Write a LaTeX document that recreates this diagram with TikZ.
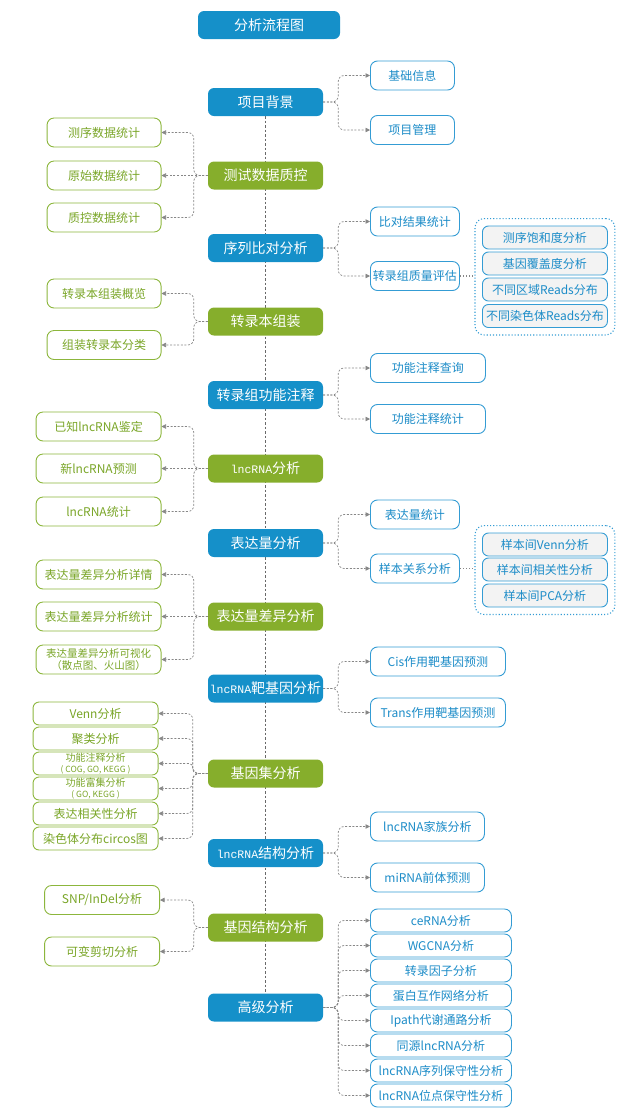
\documentclass[tikz,border=0pt]{standalone}
\usepackage{fontspec}
\setmainfont{Noto Sans CJK SC}
\setmonofont{Liberation Mono}
\usetikzlibrary{arrows.meta,fit,backgrounds}

\definecolor{mainblue}{RGB}{21,144,201}
\definecolor{maingreen}{RGB}{134,174,44}
\definecolor{lineblue}{RGB}{52,156,212}
\definecolor{textblue}{RGB}{28,140,200}
\definecolor{linegreen}{RGB}{140,182,60}
\definecolor{textgreen}{RGB}{122,166,40}
\definecolor{itemgrey}{RGB}{243,243,243}
\definecolor{linkgrey}{RGB}{135,135,135}
\definecolor{spinegrey}{RGB}{105,105,105}

\newcommand{\mono}[1]{{\fontsize{11.5}{14}\selectfont\ttfamily #1}}

\begin{document}
\begin{tikzpicture}[
  x=1pt, y=-1pt,
  mblue/.style={rectangle, rounded corners=6pt, fill=mainblue, text=white, minimum width=115, minimum height=28, inner sep=1pt, font=\fontsize{14}{16}\selectfont},
  mgreen/.style={mblue, fill=maingreen},
  cblue/.style={rectangle, rounded corners=7pt, draw=lineblue, line width=0.9pt, fill=white, text=textblue, minimum height=29, inner sep=1pt, font=\fontsize{12}{14}\selectfont},
  cgreen/.style={cblue, draw=linegreen, text=textgreen},
  iblue/.style={cblue, fill=itemgrey, minimum width=125, minimum height=23, rounded corners=6pt},
  igreen/.style={cgreen, minimum width=125, minimum height=23, rounded corners=6pt},
  grp/.style={draw=lineblue, dotted, line width=1.1pt, rounded corners=9pt, inner sep=7pt},
  link/.style={draw=linkgrey, line width=0.7pt, dash pattern=on 2pt off 1.6pt, rounded corners=6pt, -{Triangle[length=4.5pt,width=4.5pt]}},
  tie/.style={draw=linkgrey, line width=1.1pt, dotted},
  spine/.style={draw=spinegrey, line width=0.8pt, dash pattern=on 2.5pt off 2pt}
]
  \useasboundingbox (0,0) rectangle (618,1112);

  % --- TITULO ---
  \node[mblue, minimum width=142] (title) at (269,25) {分析流程图};

  % --- EJE CENTRAL ---
  \node[mblue]  (bg)      at (265.5,102)   {项目背景};
  \node[mgreen] (qc)      at (265.5,175.5) {测试数据质控};
  \node[mblue]  (align)   at (265.5,248)   {序列比对分析};
  \node[mgreen] (asm)     at (265.5,321.5) {转录本组装};
  \node[mblue]  (anno)    at (265.5,395)   {转录组功能注释};
  \node[mgreen] (lnc)     at (265.5,468.5) {\mono{lncRNA}分析};
  \node[mblue]  (expr)    at (265.5,543)   {表达量分析};
  \node[mgreen] (diff)    at (265.5,616.5) {表达量差异分析};
  \node[mblue]  (target)  at (265.5,688.5) {\mono{lncRNA}靶基因分析};
  \node[mgreen] (gset)    at (265.5,773.5) {基因集分析};
  \node[mblue]  (struct)  at (265.5,853)   {\mono{lncRNA}结构分析};
  \node[mgreen] (gstruct) at (265.5,927.5) {基因结构分析};
  \node[mblue]  (adv)     at (265.5,1007.5){高级分析};

  \begin{scope}[on background layer]
    \draw[spine] (bg.south) -- (adv.north);
  \end{scope}

  % --- RAMAS DERECHAS ---
  \node[cblue, anchor=west, minimum width=84] (info) at (370,75.5) {基础信息};
  \node[cblue, anchor=west, minimum width=84] (mgmt) at (370,130)  {项目管理};
  \draw[link] (bg.east) -- ++(15,0) |- (info.west);
  \draw[link] (bg.east) -- ++(15,0) |- (mgmt.west);

  \node[cblue, anchor=west, minimum width=89] (mapst) at (370,221.5) {比对结果统计};
  \node[cblue, anchor=west, minimum width=89] (qual)  at (370,276)   {转录组质量评估};
  \draw[link] (align.east) -- ++(15,0) |- (mapst.west);
  \draw[link] (align.east) -- ++(15,0) |- (qual.west);

  \node[iblue, anchor=west] (sat)   at (482,237.5) {测序饱和度分析};
  \node[iblue, anchor=west] (cover) at (482,263.5) {基因覆盖度分析};
  \node[iblue, anchor=west] (region) at (482,289.5) {不同区域Reads分布};
  \node[iblue, anchor=west] (chrom) at (482,316)   {不同染色体Reads分布};
  \begin{scope}[on background layer]
    \node[grp, fit=(sat)(chrom)] (qgrp) {};
  \end{scope}
  \draw[tie] (qual.east) -- (qual.east -| qgrp.west);

  \node[cblue, anchor=west, minimum width=115] (annoq) at (370,368) {功能注释查询};
  \node[cblue, anchor=west, minimum width=115] (annos) at (370,419) {功能注释统计};
  \draw[link] (anno.east) -- ++(15,0) |- (annoq.west);
  \draw[link] (anno.east) -- ++(15,0) |- (annos.west);

  \node[cblue, anchor=west, minimum width=89] (exst) at (370,514.5) {表达量统计};
  \node[cblue, anchor=west, minimum width=89] (srel) at (370,568.5) {样本关系分析};
  \draw[link] (expr.east) -- ++(15,0) |- (exst.west);
  \draw[link] (expr.east) -- ++(15,0) |- (srel.west);

  \node[iblue, anchor=west] (venn2) at (482,544.5) {样本间Venn分析};
  \node[iblue, anchor=west] (corr2) at (482,569.5) {样本间相关性分析};
  \node[iblue, anchor=west] (pca2)  at (482,595.5) {样本间PCA分析};
  \begin{scope}[on background layer]
    \node[grp, fit=(venn2)(pca2)] (sgrp) {};
  \end{scope}
  \draw[tie] (srel.east) -- (srel.east -| sgrp.west);

  \node[cblue, anchor=west, minimum width=135] (cis)   at (370,661.5) {Cis作用靶基因预测};
  \node[cblue, anchor=west, minimum width=135] (trans) at (370,712.5) {Trans作用靶基因预测};
  \draw[link] (target.east) -- ++(15,0) |- (cis.west);
  \draw[link] (target.east) -- ++(15,0) |- (trans.west);

  \node[cblue, anchor=west, minimum width=114] (family) at (370,826.5) {lncRNA家族分析};
  \node[cblue, anchor=west, minimum width=114] (mirna)  at (370,877.5) {miRNA前体预测};
  \draw[link] (struct.east) -- ++(15,0) |- (family.west);
  \draw[link] (struct.east) -- ++(15,0) |- (mirna.west);

  \node[cblue, anchor=west, minimum width=141, minimum height=23] (a1) at (370,920.5)  {ceRNA分析};
  \node[cblue, anchor=west, minimum width=141, minimum height=23] (a2) at (370,945.5)  {WGCNA分析};
  \node[cblue, anchor=west, minimum width=141, minimum height=23] (a3) at (370,970.5)  {转录因子分析};
  \node[cblue, anchor=west, minimum width=141, minimum height=23] (a4) at (370,995.5)  {蛋白互作网络分析};
  \node[cblue, anchor=west, minimum width=141, minimum height=23] (a5) at (370,1020.5) {Ipath代谢通路分析};
  \node[cblue, anchor=west, minimum width=141, minimum height=23] (a6) at (370,1045.5) {同源lncRNA分析};
  \node[cblue, anchor=west, minimum width=141, minimum height=23] (a7) at (370,1070.5) {lncRNA序列保守性分析};
  \node[cblue, anchor=west, minimum width=141, minimum height=23] (a8) at (370,1095.5) {lncRNA位点保守性分析};
  \foreach \k in {1,...,8}
    \draw[link] (adv.east) -- ++(15,0) |- (a\k.west);

  % --- RAMAS IZQUIERDAS ---
  \node[cgreen, anchor=east, minimum width=114] (seqst)   at (161.5,132.5) {测序数据统计};
  \node[cgreen, anchor=east, minimum width=114] (rawst)   at (161.5,175.5) {原始数据统计};
  \node[cgreen, anchor=east, minimum width=114] (cleanst) at (161.5,217.5) {质控数据统计};
  \draw[link] (qc.west) -- ++(-14,0) |- (seqst.east);
  \draw[link] (qc.west) -- (rawst.east);
  \draw[link] (qc.west) -- ++(-14,0) |- (cleanst.east);

  \node[cgreen, anchor=east, minimum width=114] (asmov)  at (161.5,293.5) {转录本组装概览};
  \node[cgreen, anchor=east, minimum width=114] (asmcls) at (161.5,345)   {组装转录本分类};
  \draw[link] (asm.west) -- ++(-14,0) |- (asmov.east);
  \draw[link] (asm.west) -- ++(-14,0) |- (asmcls.east);

  \node[cgreen, anchor=east, minimum width=125] (known) at (161.5,426.5) {已知lncRNA鉴定};
  \node[cgreen, anchor=east, minimum width=125] (novel) at (161.5,468.5) {新lncRNA预测};
  \node[cgreen, anchor=east, minimum width=125] (lncst) at (161.5,511.5) {lncRNA统计};
  \draw[link] (lnc.west) -- ++(-14,0) |- (known.east);
  \draw[link] (lnc.west) -- (novel.east);
  \draw[link] (lnc.west) -- ++(-14,0) |- (lncst.east);

  \node[cgreen, anchor=east, minimum width=125] (diffdet) at (161.5,574.5) {表达量差异分析详情};
  \node[cgreen, anchor=east, minimum width=125] (diffst)  at (161.5,616.5) {表达量差异分析统计};
  \node[cgreen, anchor=east, minimum width=125, align=center, inner ysep=0pt,
        font=\fontsize{10.5}{12.5}\selectfont] (diffvis) at (161.5,659.5)
        {表达量差异分析可视化\\（散点图、火山图）};
  \draw[link] (diff.west) -- ++(-14,0) |- (diffdet.east);
  \draw[link] (diff.west) -- (diffst.east);
  \draw[link] (diff.west) -- ++(-14,0) |- (diffvis.east);

  \node[igreen, anchor=east] (g1) at (158.5,713.5) {Venn分析};
  \node[igreen, anchor=east] (g2) at (158.5,738.5) {聚类分析};
  \node[igreen, anchor=east, align=center, inner ysep=0pt, font=\fontsize{10}{10.5}\selectfont] (g3) at (158.5,763.5)
        {功能注释分析\\{\fontsize{8.5}{9.5}\selectfont ( COG, GO, KEGG )}};
  \node[igreen, anchor=east, align=center, inner ysep=0pt, font=\fontsize{10}{10.5}\selectfont] (g4) at (158.5,788.5)
        {功能富集分析\\{\fontsize{8.5}{9.5}\selectfont ( GO, KEGG )}};
  \node[igreen, anchor=east] (g5) at (158.5,813.5) {表达相关性分析};
  \node[igreen, anchor=east] (g6) at (158.5,838.5) {染色体分布circos图};
  \foreach \k in {1,2,4,5,6}
    \draw[link] (gset.west) -- ++(-15,0) |- (g\k.east);
  \draw[link, rounded corners=4pt] (gset.west) -- ++(-15,0) |- (g3.east);

  \node[cgreen, anchor=east, minimum width=115] (snp)    at (160,900)   {SNP/InDel分析};
  \node[cgreen, anchor=east, minimum width=115] (splice) at (160,951.5) {可变剪切分析};
  \draw[link] (gstruct.west) -- ++(-14,0) |- (snp.east);
  \draw[link] (gstruct.west) -- ++(-14,0) |- (splice.east);
\end{tikzpicture}
\end{document}
